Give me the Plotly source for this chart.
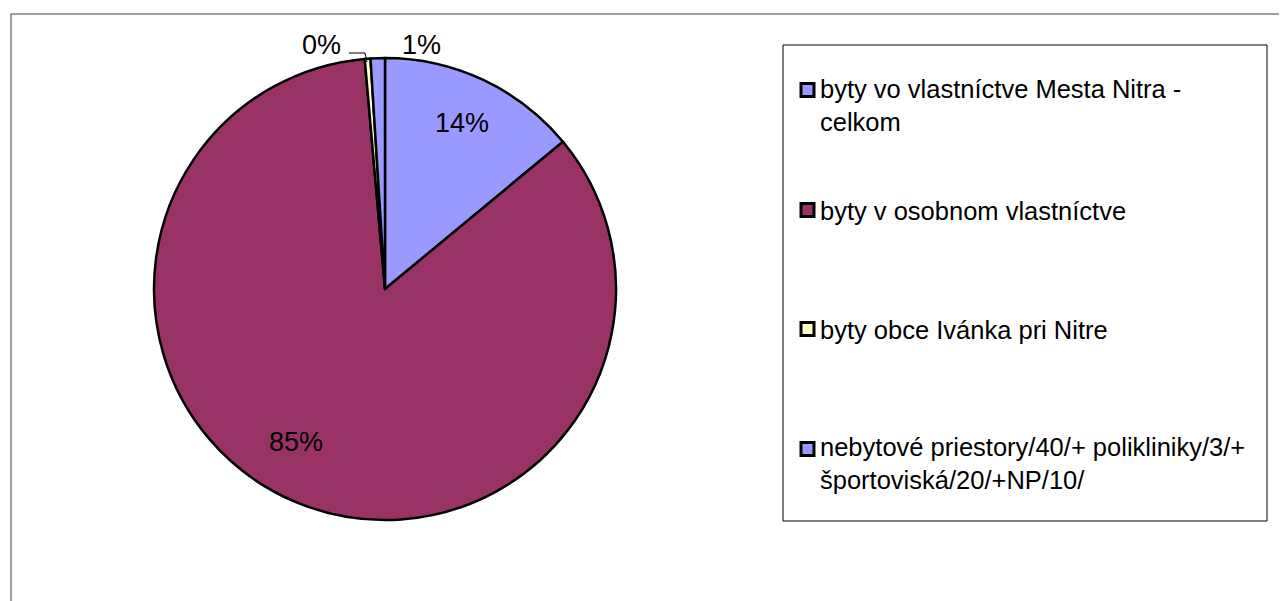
import plotly.graph_objects as go

# page offset (default body margin) and figure size
OFF = 8
W, H = 1287 - OFF, 601 - OFF

labels = [
    "byty vo vlastníctve Mesta Nitra - celkom",
    "byty v osobnom vlastníctve",
    "byty obce Ivánka pri Nitre",
    "nebytové priestory/40/+ polikliniky/3/+ športoviská/20/+NP/10/",
]
legend_text = [
    "byty vo vlastníctve Mesta Nitra -<br>celkom",
    "byty v osobnom vlastníctve",
    "byty obce Ivánka pri Nitre",
    "nebytové priestory/40/+ polikliniky/3/+<br>športoviská/20/+NP/10/",
]
values = [14.0, 84.6, 0.4, 1.0]
colors = ["#9999FF", "#993366", "#FFFFCC", "#9999FF"]

FONT = "Liberation Sans, Arial, sans-serif"


def px(x):
    return (x - OFF) / W


def py(y):
    return 1 - (y - OFF) / H


cx, cy, r = 385, 289, 231

fig = go.Figure(
    go.Pie(
        labels=labels,
        values=values,
        sort=False,
        direction="clockwise",
        rotation=0,
        marker=dict(colors=colors, line=dict(color="black", width=2.5)),
        textinfo="none",
        hoverinfo="label+percent",
        showlegend=False,
        domain=dict(x=[px(cx - r), px(cx + r)], y=[py(cy + r), py(cy - r)]),
    )
)

total = sum(values)
pcts = [f"{round(v / total * 100)}%" for v in values]

# percentage label positions (pixels)
label_pos = [(462, 123), (296, 442), (321, 45), (421, 45)]
annotations = []
for t, (x, y) in zip(pcts, label_pos):
    annotations.append(dict(
        x=px(x), y=py(y), xref="paper", yref="paper", text=t, showarrow=False,
        xanchor="center", yanchor="middle", font=dict(family=FONT, size=27, color="black"),
    ))

shapes = []
# outer chart border
shapes.append(dict(type="rect", xref="paper", yref="paper",
                   x0=px(11), y0=py(640), x1=px(1330), y1=py(14),
                   line=dict(color="#7f7f7f", width=1.5), fillcolor="rgba(0,0,0,0)", layer="below"))
# leader line for 0%
shapes.append(dict(type="path", xref="paper", yref="paper",
                   path=f"M {px(349)} {py(53)} L {px(365)} {py(53)} L {px(367)} {py(62)}",
                   line=dict(color="black", width=1)))

# legend box
shapes.append(dict(type="rect", xref="paper", yref="paper",
                   x0=px(783), y0=py(521), x1=px(1267), y1=py(45),
                   line=dict(color="black", width=1), fillcolor="white", layer="below"))

swatch_y = [90, 210, 329, 449]
text_y = [106, 211, 330, 464]
for c, sy, t, ty in zip(colors, swatch_y, legend_text, text_y):
    shapes.append(dict(type="rect", xref="paper", yref="paper",
                       x0=px(801), y0=py(sy + 6.5), x1=px(814), y1=py(sy - 6.5),
                       line=dict(color="black", width=3), fillcolor=c))
    annotations.append(dict(
        x=px(818), y=py(ty), xref="paper", yref="paper", text=t, showarrow=False,
        xanchor="left", yanchor="middle", align="left",
        font=dict(family=FONT, size=25.5, color="black"),
    ))

fig.update_layout(
    width=W, height=H,
    margin=dict(l=0, r=0, t=0, b=0),
    paper_bgcolor="white", plot_bgcolor="white",
    shapes=shapes, annotations=annotations,
    showlegend=False,
)

fig.write_html("out.html")
